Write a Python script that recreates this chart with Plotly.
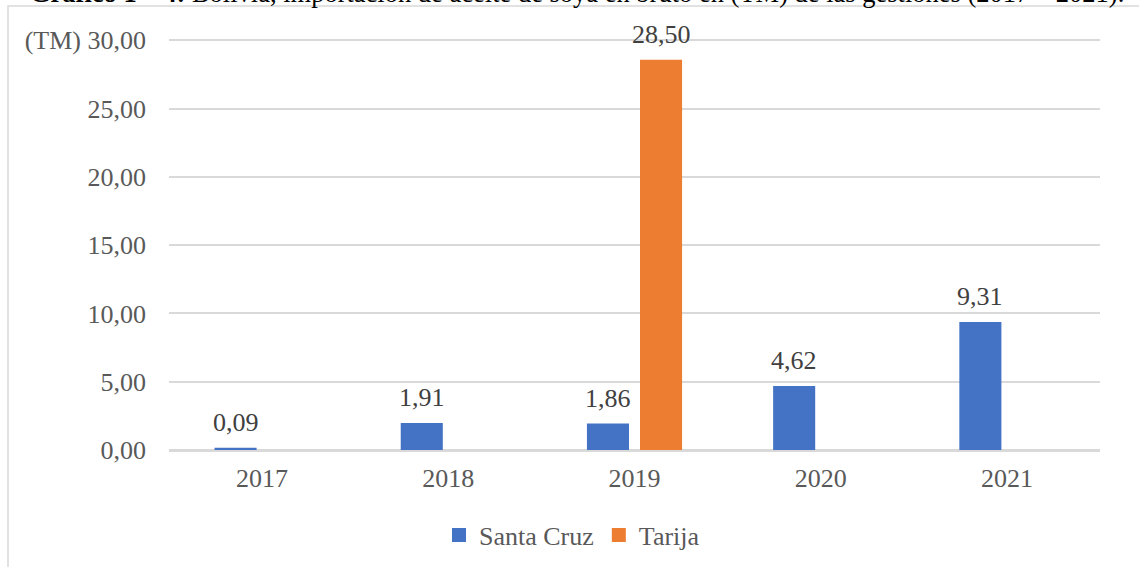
import plotly.graph_objects as go

years = ["2017", "2018", "2019", "2020", "2021"]
santa_cruz = [0.09, 1.91, 1.86, 4.62, 9.31]
tarija = [None, None, 28.50, None, None]
tick_vals = [0, 5, 10, 15, 20, 25, 30]
tick_text = ["0,00", "5,00", "10,00", "15,00", "20,00", "25,00", "(TM) 30,00"]
title_text = "<b>Gráfico 1 – 4:</b> Bolivia, importación de aceite de soya en bruto en (TM) de las gestiones (2017 – 2021)."

FONT = "Liberation Serif, Times New Roman, serif"
GREY = "#595959"
BLUE = "#4472C4"
ORANGE = "#ED7D31"

W, H = 1139, 567
L, R, T, B = 169, 39, 39, 117
pw, ph = W - L - R, H - T - B

def px_x(p):
    return (p - L) / pw

def px_y(p):
    return (H - B - p) / ph

fig = go.Figure()
fig.add_trace(go.Bar(name="Santa Cruz", x=years, y=santa_cruz, marker_color=BLUE,
                     marker_line=dict(color=BLUE, width=2)))
fig.add_trace(go.Bar(name="Tarija", x=years, y=tarija, marker_color=ORANGE,
                     marker_line=dict(color=ORANGE, width=2)))

def fmt(v):
    return f"{v:.2f}".replace(".", ",")

annotations = []
for series, shift in ((santa_cruz, -26.5), (tarija, 26.5)):
    for i, v in enumerate(series):
        if v is None:
            continue
        annotations.append(dict(
            x=i, y=v, xref="x", yref="y", text=fmt(v), showarrow=False,
            xanchor="center", yanchor="bottom", xshift=shift, yshift=10,
            font=dict(family=FONT, size=26, color="#404040"),
        ))

annotations.append(dict(
    x=px_x(28), y=px_y(-7), xref="paper", yref="paper", text=title_text,
    showarrow=False, xanchor="left", yanchor="middle",
    font=dict(family=FONT, size=26.5, color="#000000"),
))

fig.update_layout(
    width=W, height=H,
    margin=dict(l=L, r=R, t=T, b=B, autoexpand=False),
    paper_bgcolor="white", plot_bgcolor="white",
    barmode="group", bargap=0.43, bargroupgap=0.245,
    font=dict(family=FONT, size=26, color=GREY),
    showlegend=True,
    legend=dict(orientation="h", xref="container", yref="container",
                x=439 / W, y=1 - 535 / H, xanchor="left", yanchor="middle",
                font=dict(family=FONT, size=26, color=GREY), bgcolor="rgba(0,0,0,0)"),
    annotations=annotations,
    shapes=[dict(type="rect", xref="paper", yref="paper",
                 x0=px_x(8), x1=px_x(1160), y0=px_y(600), y1=px_y(6),
                 line=dict(color="#d9d9d9", width=1.5), fillcolor="rgba(0,0,0,0)", layer="below")],
)
fig.update_xaxes(type="category", range=[-0.5, 4.5], autorange=False,
                 showgrid=False, showline=True, linecolor="#d9d9d9", linewidth=1.5,
                 ticks="", tickfont=dict(family=FONT, size=26, color=GREY), ticklabelstandoff=4)
fig.update_yaxes(range=[0, 30.1], autorange=False, tickvals=tick_vals, ticktext=tick_text,
                 showgrid=True, gridcolor="#d9d9d9", gridwidth=1.5,
                 zeroline=True, zerolinecolor="#d9d9d9", zerolinewidth=1.5,
                 showline=False, ticks="", tickfont=dict(family=FONT, size=26, color=GREY),
                 ticklabelstandoff=22)

fig.write_html("out.html")
